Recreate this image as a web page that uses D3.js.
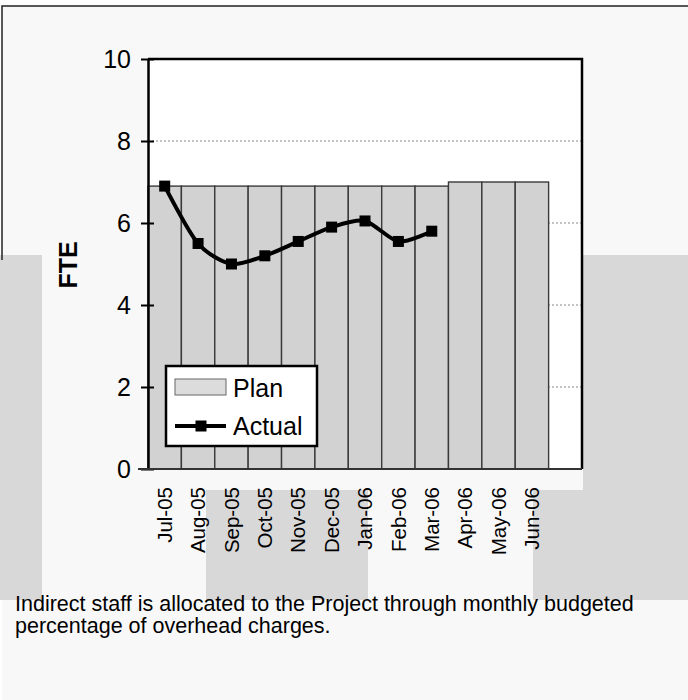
<!DOCTYPE html>
<html>
<head>
<meta charset="utf-8">
<script src="https://cdn.jsdelivr.net/npm/d3@7"></script>
<style>
  body { margin: 0; background: #fff; }
  text { font-family: "Liberation Sans", Arial, sans-serif; fill: #000; }
</style>
</head>
<body>
<div id="chart"><svg></svg></div>
<script>
(function() {

  // data
  var months = ["Jul-05", "Aug-05", "Sep-05", "Oct-05", "Nov-05", "Dec-05",
                "Jan-06", "Feb-06", "Mar-06", "Apr-06", "May-06", "Jun-06"]
  var plan = [6.9, 6.9, 6.9, 6.9, 6.9, 6.9, 6.9, 6.9, 6.9, 7.0, 7.0, 7.0]
  var actual = [6.9, 5.5, 5.0, 5.2, 5.55, 5.9, 6.05, 5.55, 5.8]
  var yTicks = [0, 2, 4, 6, 8, 10]
  var legendLabels = ["Plan", "Actual"]
  var caption = ["Indirect staff is allocated to the Project through monthly budgeted",
                 "percentage of overhead charges."]

  var width = 688, height = 700
  var margin = { top: 59, left: 148, right: 106, bottom: 231 }
  var plotW = width - margin.left - margin.right
  var plotH = height - margin.top - margin.bottom

  var svg = d3.select("#chart")
    .select("svg")
    .attr("width", width)
    .attr("height", height)

  // scanned page look: light background and grey bands
  svg.append("rect")
    .attr("x", 2).attr("y", 6)
    .attr("width", width - 2).attr("height", height - 6)
    .attr("fill", "#f8f8f8")

  var bands = [[0, 255, 42, 345], [206, 490, 162, 110], [533, 490, 155, 110], [583, 255, 105, 240]]
  svg.selectAll(".band")
    .data(bands)
    .enter()
    .append("rect")
    .attr("class", "band")
    .attr("x", function(d) { return d[0] })
    .attr("y", function(d) { return d[1] })
    .attr("width", function(d) { return d[2] })
    .attr("height", function(d) { return d[3] })
    .attr("fill", "#d8d8d8")

  svg.append("path")
    .attr("d", "M2,260 L2,6 L688,6")
    .attr("fill", "none")
    .attr("stroke", "#222")
    .attr("stroke-width", 1.5)

  var g = svg.append("g")
    .attr("transform", "translate(" + margin.left + "," + margin.top + ")")

  // one empty slot after Jun-06, like the original
  var xPositionScale = d3.scaleBand()
    .domain(months)
    .range([0, plotW * 12 / 13])
    .paddingInner(0)
    .paddingOuter(0)

  var yPositionScale = d3.scaleLinear()
    .domain([0, 10])
    .range([plotH, 0])

  // plot area
  g.append("rect")
    .attr("width", plotW)
    .attr("height", plotH)
    .attr("fill", "#fff")

  g.selectAll(".grid")
    .data(yTicks.filter(function(d) { return d > 0 && d < 10 }))
    .enter()
    .append("line")
    .attr("class", "grid")
    .attr("x1", 0)
    .attr("x2", plotW)
    .attr("y1", function(d) { return yPositionScale(d) })
    .attr("y2", function(d) { return yPositionScale(d) })
    .attr("stroke", "#888")
    .attr("stroke-width", 1)
    .attr("stroke-dasharray", "2,2")

  // plan bars
  g.selectAll(".bar")
    .data(plan)
    .enter()
    .append("rect")
    .attr("class", "bar")
    .attr("x", function(d, i) { return xPositionScale(months[i]) })
    .attr("y", function(d) { return yPositionScale(d) })
    .attr("width", xPositionScale.bandwidth())
    .attr("height", function(d) { return plotH - yPositionScale(d) })
    .attr("fill", "#d2d2d2")
    .attr("stroke", "#3a3a3a")
    .attr("stroke-width", 1.4)

  // plot border, top and right
  g.append("path")
    .attr("d", "M0,0 L" + plotW + ",0 L" + plotW + "," + plotH)
    .attr("fill", "none")
    .attr("stroke", "#000")
    .attr("stroke-width", 2.5)

  // y axis with crossing ticks
  var yAxis = d3.axisLeft(yPositionScale)
    .tickValues(yTicks)
    .tickSizeInner(-6)
    .tickSizeOuter(0)
    .tickPadding(18)
  var yAxisG = g.append("g")
    .attr("class", "axis y-axis")
    .call(yAxis)
  yAxisG.select(".domain").attr("stroke", "#000").attr("stroke-width", 2.5)
  yAxisG.selectAll(".tick line")
    .attr("x1", -7).attr("x2", 6)
    .attr("stroke", "#000").attr("stroke-width", 2)
  yAxisG.selectAll(".tick text")
    .attr("font-size", 25)
    .attr("font-family", "Liberation Sans, Arial, sans-serif")
    .attr("x", -17)

  // x axis, no ticks, rotated labels
  var xAxis = d3.axisBottom(xPositionScale)
    .tickSize(0)
    .tickPadding(0)
  var xAxisG = g.append("g")
    .attr("class", "axis x-axis")
    .attr("transform", "translate(0," + plotH + ")")
    .call(xAxis)
  xAxisG.select(".domain").remove()
  xAxisG.append("line")
    .attr("x1", -10).attr("x2", plotW)
    .attr("stroke", "#333").attr("stroke-width", 2)
  xAxisG.selectAll(".tick text")
    .attr("font-size", 20.5)
    .attr("font-family", "Liberation Sans, Arial, sans-serif")
    .attr("text-anchor", "end")
    .attr("transform", "translate(0,18) rotate(-90)")
    .attr("x", 0)
    .attr("y", 0)
    .attr("dy", "0.35em")

  // actual line, smoothed like the spreadsheet
  var line = d3.line()
    .x(function(d, i) { return xPositionScale(months[i]) + xPositionScale.bandwidth() / 2 })
    .y(function(d) { return yPositionScale(d) })
    .curve(d3.curveCardinal.tension(0.2))

  g.append("path")
    .datum(actual)
    .attr("d", line)
    .attr("fill", "none")
    .attr("stroke", "#000")
    .attr("stroke-width", 4)

  g.selectAll(".marker")
    .data(actual)
    .enter()
    .append("rect")
    .attr("class", "marker")
    .attr("x", function(d, i) { return xPositionScale(months[i]) + xPositionScale.bandwidth() / 2 - 5.5 })
    .attr("y", function(d) { return yPositionScale(d) - 5.5 })
    .attr("width", 11)
    .attr("height", 11)
    .attr("fill", "#000")

  // y axis title
  svg.append("text")
    .attr("transform", "translate(68,265) rotate(-90)")
    .attr("text-anchor", "middle")
    .attr("dy", "0.35em")
    .attr("font-size", 25)
    .attr("font-weight", "bold")
    .text("FTE")

  // legend
  var legend = svg.append("g")
    .attr("transform", "translate(166,366)")
  legend.append("rect")
    .attr("width", 151)
    .attr("height", 80)
    .attr("fill", "#fff")
    .attr("stroke", "#000")
    .attr("stroke-width", 2.5)
  legend.append("rect")
    .attr("x", 9).attr("y", 13)
    .attr("width", 51).attr("height", 16)
    .attr("fill", "#dcdcdc")
    .attr("stroke", "#666")
    .attr("stroke-width", 1)
  legend.append("line")
    .attr("x1", 9).attr("x2", 60)
    .attr("y1", 60).attr("y2", 60)
    .attr("stroke", "#000")
    .attr("stroke-width", 4)
  legend.append("rect")
    .attr("x", 29.5).attr("y", 54.5)
    .attr("width", 11).attr("height", 11)
    .attr("fill", "#000")
  legend.selectAll(".legend-label")
    .data(legendLabels)
    .enter()
    .append("text")
    .attr("class", "legend-label")
    .attr("x", 67)
    .attr("y", function(d, i) { return 31 + i * 38 })
    .attr("font-size", 25)
    .text(function(d) { return d })

  // caption under the chart
  svg.selectAll(".caption")
    .data(caption)
    .enter()
    .append("text")
    .attr("class", "caption")
    .attr("x", 15)
    .attr("y", function(d, i) { return 611 + i * 22 })
    .attr("font-size", 21.5)
    .text(function(d) { return d })

})()
</script>
</body>
</html>
